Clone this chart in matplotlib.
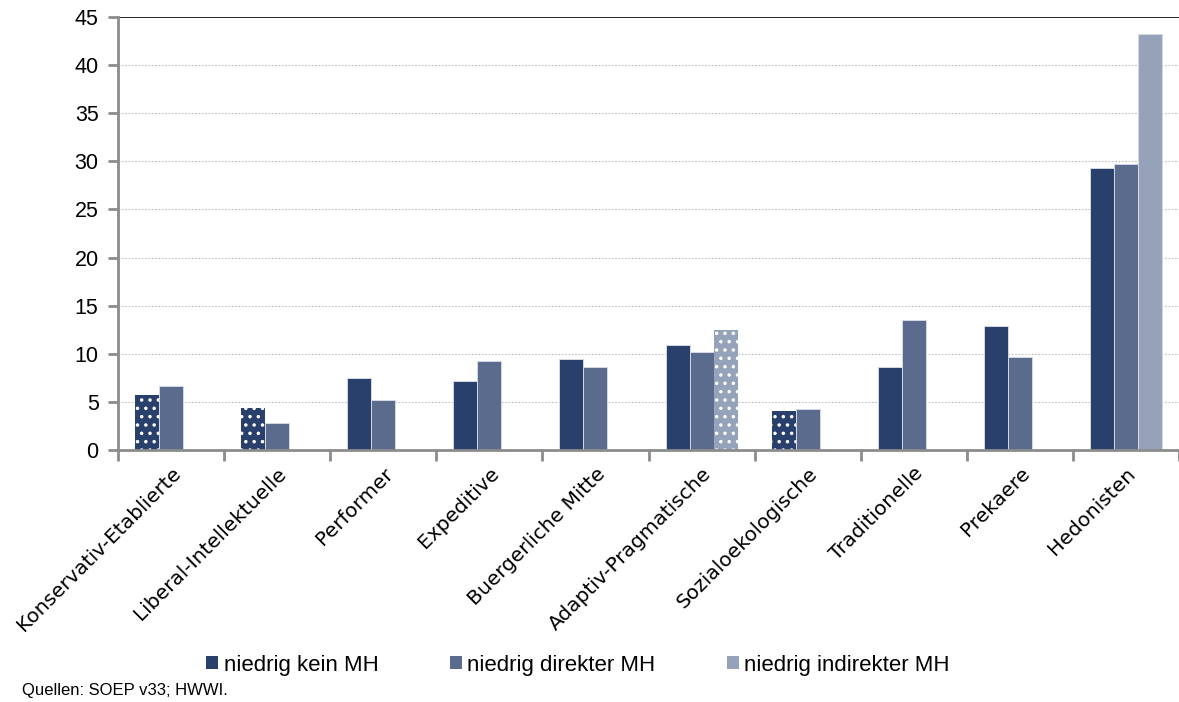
import matplotlib
matplotlib.use("Agg")
import matplotlib.pyplot as plt
import numpy as np

categories = ["Konservativ-Etablierte", "Liberal-Intellektuelle", "Performer", "Expeditive",
              "Buergerliche Mitte", "Adaptiv-Pragmatische", "Sozialoekologische",
              "Traditionelle", "Prekaere", "Hedonisten"]
series_names = ["niedrig kein MH", "niedrig direkter MH", "niedrig indirekter MH"]
kein_mh = [5.7, 4.4, 7.5, 7.2, 9.45, 10.9, 4.05, 8.6, 12.9, 29.3]
direkter_mh = [6.65, 2.8, 5.2, 9.25, 8.6, 10.2, 4.25, 13.5, 9.7, 29.75]
indirekter_mh = [np.nan, np.nan, np.nan, np.nan, np.nan, 12.5, np.nan, np.nan, np.nan, 43.25]
# bars marked with dotted pattern (low case numbers)
hatched_kein = [True, True, False, False, False, False, True, False, False, False]
hatched_direkt = [False] * 10
hatched_indirekt = [False, False, False, False, False, True, False, False, False, False]

colors = ["#293F6C", "#5A6B8D", "#95A2B9"]

plt.rcParams["hatch.linewidth"] = 1.3

fig = plt.figure(figsize=(11.79, 7.02), dpi=100)
ax = fig.add_axes([118/1179, 1 - 450/702, 1 - 118/1179, (450 - 17)/702])

x = np.arange(len(categories))
w = 0.226
series = [kein_mh, direkter_mh, indirekter_mh]
hatches = [hatched_kein, hatched_direkt, hatched_indirekt]
for i, (vals, hflags) in enumerate(zip(series, hatches)):
    bars = ax.bar(x + (i - 1) * w, vals, width=w, color=colors[i],
                  edgecolor="#D5D9E2", linewidth=0.7, label=series_names[i], zorder=3)
    for b, h in zip(bars, hflags):
        if h:
            b.set_hatch("..")
            b.set_edgecolor("white")
            b.set_linewidth(0)

ax.set_xlim(-0.5, len(categories) - 0.5)
ax.set_ylim(0, 45)
ax.set_yticks(np.arange(0, 46, 5))
ax.set_xticks(x)
ax.set_xticklabels(categories, rotation=45, ha="right", rotation_mode="anchor",
                   fontsize=14.5, family="DejaVu Sans")
ax.set_xticks(np.arange(-0.5, len(categories), 1), minor=True)
ax.tick_params(axis="x", which="major", length=0, pad=10)
ax.tick_params(axis="x", which="minor", length=8, width=2, color="#8C8C8C", direction="out")
ax.tick_params(axis="y", length=7, width=2, color="#8C8C8C", labelsize=15.5, pad=7)
for lbl in ax.get_yticklabels():
    lbl.set_family(["Liberation Sans", "DejaVu Sans"])

for y in range(5, 45, 5):
    ax.axhline(y, color="#BDBDBD", linestyle=(0, (1.5, 1.5)), linewidth=0.8, zorder=1)
ax.axhline(45, color="black", linewidth=1.2, zorder=1)

for s in ["top", "right"]:
    ax.spines[s].set_visible(False)
ax.spines["left"].set_color("#8C8C8C")
ax.spines["left"].set_linewidth(2)
ax.spines["bottom"].set_color("#8C8C8C")
ax.spines["bottom"].set_linewidth(2)
ax.spines["bottom"].set_zorder(4)

handles, labels = ax.get_legend_handles_labels()
leg = fig.legend(handles, labels, loc="center", bbox_to_anchor=(578/1179, 1 - 665/702),
                 ncol=3, frameon=False, handlelength=0.55, handleheight=0.55,
                 handletextpad=0.25, columnspacing=3.2,
                 prop={"family": ["Liberation Sans", "DejaVu Sans"], "size": 16})
for h in leg.legend_handles:
    h.set_hatch(None)
    h.set_linewidth(0)

fig.text(22/1179, 1 - 690/702, "Quellen: SOEP v33; HWWI.", fontsize=12,
         family=["Liberation Sans", "DejaVu Sans"], va="center", ha="left")

fig.savefig("out.png", dpi=100)
